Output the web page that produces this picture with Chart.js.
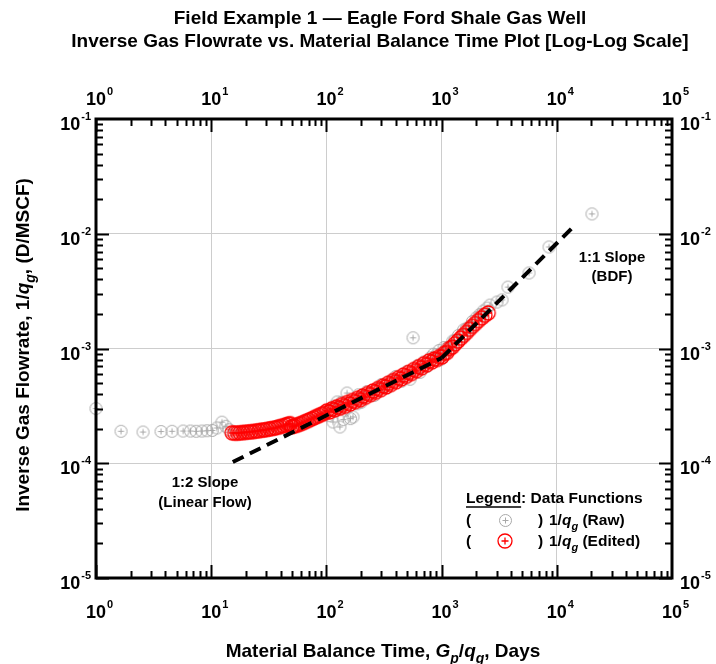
<!DOCTYPE html>
<html>
<head>
<meta charset="utf-8">
<script src="https://cdn.jsdelivr.net/npm/chart.js@4.4.1/dist/chart.umd.min.js"></script>
<style>
  html, body { margin: 0; padding: 0; background: #fff; }
  #wrap { width: 716px; height: 664px; position: relative; }
</style>
</head>
<body>
<div id="wrap"><canvas id="plot"></canvas></div>
<script>
// raw inverse rate vs material balance time (days, D/MSCF)
const rawTime = [
  1.0, 1.65, 2.56, 3.67, 4.57, 5.7, 6.6, 7.4, 8.3, 9.2, 10.2, 11.2, 12.4, 13.4, 14.3,
  16.5, 19.0, 23.0, 27.0, 32.0, 38.0, 45.0, 52.0, 60.0, 70.0, 82.0, 95.0,
  105, 108, 114, 118, 124, 131, 135, 140, 145, 151, 162, 170, 185, 190, 200, 210, 225,
  240, 260, 275, 300, 320, 340, 370, 400, 450, 500, 532, 565, 620, 650, 700, 750,
  800, 850, 900, 950, 980, 1050, 1100, 1150, 1250, 1300, 1400, 1500, 1550, 1650, 1765,
  1850, 2000, 2150, 2200, 2300, 2480, 2630, 3030, 3345, 3770, 5740, 8560, 20200
];
const rawInvRate = [
  3.0e-4, 1.90e-4, 1.87e-4, 1.89e-4, 1.90e-4, 1.91e-4, 1.91e-4, 1.90e-4, 1.91e-4, 1.92e-4, 1.93e-4, 2.03e-4, 2.28e-4, 2.10e-4, 1.96e-4,
  1.86e-4, 1.88e-4, 1.91e-4, 1.97e-4, 2.03e-4, 2.10e-4, 2.20e-4, 2.12e-4, 2.24e-4, 2.40e-4, 2.55e-4, 2.72e-4,
  2.60e-4, 2.95e-4, 2.29e-4, 3.15e-4, 3.42e-4, 2.07e-4, 3.40e-4, 2.40e-4, 2.90e-4, 4.09e-4, 2.45e-4, 2.53e-4, 3.30e-4, 3.95e-4, 3.40e-4, 3.75e-4, 4.20e-4,
  4.05e-4, 3.90e-4, 4.45e-4, 4.85e-4, 4.75e-4, 4.55e-4, 5.30e-4, 5.70e-4, 5.20e-4, 6.30e-4, 5.40e-4, 1.24e-3, 7.10e-4, 6.20e-4, 7.60e-4, 7.00e-4,
  8.30e-4, 8.90e-4, 8.80e-4, 9.60e-4, 8.00e-4, 1.02e-3, 1.00e-3, 9.80e-4, 1.16e-3, 1.18e-3, 1.30e-3, 1.30e-3, 1.45e-3, 1.50e-3, 1.54e-3,
  1.72e-3, 1.85e-3, 1.98e-3, 1.95e-3, 2.12e-3, 2.25e-3, 2.39e-3, 2.54e-3, 2.65e-3, 3.43e-3, 4.55e-3, 7.67e-3, 1.49e-2
];

// edited data set
const editedTime = [
  15.2, 16.0, 16.9, 17.8, 18.8, 19.8, 20.9, 22.1, 23.3, 24.6, 26.0, 27.4, 28.9, 30.5, 32.2, 34.0, 35.9, 37.9,
  40.0, 42.2, 44.5, 46.8, 48.5, 50.2, 52.4, 54.9, 57.6, 60.5, 63.6, 66.9, 70.4, 74.1, 78.0, 82.1, 86.4, 91.0,
  95.8, 100.9, 106.2, 111.8, 117.7, 123.9, 130.4, 137.3, 144.5, 152.1, 160.1, 168.6, 177.5, 186.8, 196.7,
  207, 218, 229, 241, 254, 267, 281, 296, 312, 328, 345, 363, 382, 402, 423, 445, 468, 493, 519, 546, 575,
  605, 637, 670, 705, 742, 781, 822, 865, 910, 958, 1008, 1060, 1115, 1175, 1240, 1310, 1385, 1465, 1550,
  1645, 1745, 1850, 1965, 2090, 2230, 2380, 2540
];
const editedInvRate = [
  1.84e-4, 1.83e-4, 1.83e-4, 1.84e-4, 1.85e-4, 1.86e-4, 1.87e-4, 1.88e-4, 1.89e-4, 1.91e-4, 1.92e-4, 1.94e-4, 1.95e-4, 1.97e-4, 1.99e-4, 2.01e-4, 2.03e-4, 2.06e-4,
  2.09e-4, 2.12e-4, 2.16e-4, 2.19e-4, 2.21e-4, 2.08e-4, 2.11e-4, 2.14e-4, 2.18e-4, 2.22e-4, 2.27e-4, 2.32e-4, 2.37e-4, 2.43e-4, 2.49e-4, 2.55e-4, 2.61e-4, 2.67e-4,
  2.73e-4, 2.86e-4, 2.80e-4, 2.98e-4, 2.92e-4, 3.10e-4, 3.02e-4, 3.24e-4, 3.14e-4, 3.38e-4, 3.28e-4, 3.52e-4, 3.44e-4, 3.68e-4, 3.58e-4,
  3.86e-4, 3.76e-4, 4.05e-4, 3.96e-4, 4.26e-4, 4.16e-4, 4.48e-4, 4.38e-4, 4.72e-4, 4.62e-4, 4.98e-4, 4.86e-4, 5.26e-4, 5.13e-4, 5.56e-4, 5.42e-4, 5.87e-4, 5.72e-4, 6.20e-4, 6.05e-4, 6.56e-4,
  6.40e-4, 6.94e-4, 6.78e-4, 7.36e-4, 7.20e-4, 7.80e-4, 7.62e-4, 8.10e-4, 8.02e-4, 8.50e-4, 8.45e-4, 9.10e-4, 9.25e-4, 1.00e-3, 1.03e-3, 1.10e-3, 1.16e-3, 1.23e-3, 1.30e-3,
  1.38e-3, 1.47e-3, 1.56e-3, 1.65e-3, 1.75e-3, 1.85e-3, 1.95e-3, 2.04e-3
];

// straight-line guides: half slope (linear flow) and unit slope (BDF)
const linearTime = [15.4, 1000];
const linearInvRate = [1.025e-4, 8.26e-4];
const bdfTime = [1000, 13500];
const bdfInvRate = [8.26e-4, 1.115e-2];

const xDecades = [1, 10, 100, 1000, 10000, 100000];
const yDecades = [1e-5, 1e-4, 1e-3, 1e-2, 1e-1];

const FONT = '"Liberation Sans", Arial, sans-serif';

function pairs(xs, ys) {
  return xs.map((x, i) => ({ x, y: ys[i] }));
}

function ringMarker(color, r, lw) {
  const s = Math.ceil(r * 2 + lw + 2);
  const c = document.createElement('canvas');
  c.width = s; c.height = s;
  const g = c.getContext('2d');
  const m = s / 2;
  g.strokeStyle = color;
  g.lineWidth = lw;
  g.beginPath();
  g.arc(m, m, r, 0, Math.PI * 2);
  g.stroke();
  g.beginPath();
  g.moveTo(m - r * 0.5, m); g.lineTo(m + r * 0.5, m);
  g.moveTo(m, m - r * 0.5); g.lineTo(m, m + r * 0.5);
  g.stroke();
  return c;
}

const rawMark = ringMarker('#a8a8a8', 6, 1);
const editMark = ringMarker('#ff0000', 7, 1.3);

// text with italic / subscript runs
function drawRich(g, runs, x, y, size, align) {
  const fontOf = r => `${r.it ? 'italic ' : ''}bold ${r.sub ? Math.round(size * 0.72) : size}px ${FONT}`;
  let w = 0;
  const widths = runs.map(r => { g.font = fontOf(r); const m = g.measureText(r.t).width; w += m; return m; });
  let cx = align === 'center' ? x - w / 2 : x;
  runs.forEach((r, i) => {
    g.font = fontOf(r);
    g.fillText(r.t, cx, y + (r.sub ? size * 0.3 : 0));
    cx += widths[i];
  });
}

function powerLabel(g, v, x, y, align) {
  const exp = String(Math.round(Math.log10(v)));
  g.font = `bold 18px ${FONT}`;
  const wb = g.measureText('10').width;
  g.font = `bold 11px ${FONT}`;
  const we = g.measureText(exp).width;
  let x0 = x - wb / 2;
  if (align === 'right') x0 = x - wb - we - 1;
  if (align === 'left') x0 = x;
  g.font = `bold 18px ${FONT}`;
  g.fillText('10', x0, y);
  g.font = `bold 11px ${FONT}`;
  g.fillText(exp, x0 + wb + 1, y - 10);
}

const frame = {
  id: 'frame',
  afterDraw(chart) {
    const g = chart.ctx, a = chart.chartArea;
    const xs = chart.scales.x, ys = chart.scales.y;
    g.save();
    g.strokeStyle = '#000';
    g.fillStyle = '#000';

    // inward tick marks on all four sides
    g.lineWidth = 2;
    g.beginPath();
    xDecades.slice(0, -1).forEach(d => {
      for (let m = 1; m <= 9; m++) {
        const px = Math.round(xs.getPixelForValue(d * m)) + 0.5;
        const len = m === 1 ? 13 : 7;
        g.moveTo(px, a.bottom); g.lineTo(px, a.bottom - len);
        g.moveTo(px, a.top); g.lineTo(px, a.top + len);
      }
    });
    yDecades.slice(0, -1).forEach(d => {
      for (let m = 1; m <= 9; m++) {
        const py = Math.round(ys.getPixelForValue(d * m)) + 0.5;
        const len = m === 1 ? 13 : 7;
        g.moveTo(a.left, py); g.lineTo(a.left + len, py);
        g.moveTo(a.right, py); g.lineTo(a.right - len, py);
      }
    });
    g.stroke();

    g.lineWidth = 3;
    g.strokeRect(a.left, a.top, a.right - a.left, a.bottom - a.top);

    // decade labels
    g.textBaseline = 'alphabetic';
    g.textAlign = 'left';
    xDecades.forEach(v => {
      const px = xs.getPixelForValue(v);
      powerLabel(g, v, px, a.top - 14, 'center');
      powerLabel(g, v, px, a.bottom + 40, 'center');
    });
    yDecades.forEach(v => {
      const py = ys.getPixelForValue(v);
      powerLabel(g, v, a.left - 5, py + 11, 'right');
      powerLabel(g, v, a.right + 8, py + 11, 'left');
    });

    // title
    g.textAlign = 'center';
    g.font = `bold 19px ${FONT}`;
    g.fillText('Field Example 1 \u2014 Eagle Ford Shale Gas Well', 380, 24);
    g.fillText('Inverse Gas Flowrate vs. Material Balance Time Plot [Log-Log Scale]', 380, 47);
    g.textAlign = 'left';

    // axis titles
    drawRich(g, [
      { t: 'Material Balance Time, ' }, { t: 'G', it: 1 }, { t: 'p', it: 1, sub: 1 },
      { t: '/' }, { t: 'q', it: 1 }, { t: 'g', it: 1, sub: 1 }, { t: ', Days' }
    ], 383, 657, 19, 'center');

    g.save();
    g.translate(29, 345);
    g.rotate(-Math.PI / 2);
    drawRich(g, [
      { t: 'Inverse Gas Flowrate, 1/' }, { t: 'q', it: 1 }, { t: 'g', it: 1, sub: 1 },
      { t: ', (D/MSCF)' }
    ], 0, 0, 19, 'center');
    g.restore();

    // slope notes
    g.textAlign = 'center';
    g.font = `bold 15px ${FONT}`;
    g.fillText('1:1 Slope', 612, 262);
    g.fillText('(BDF)', 612, 281);
    g.fillText('1:2 Slope', 205, 487);
    g.fillText('(Linear Flow)', 205, 507);
    g.textAlign = 'left';

    // legend block
    g.font = `bold 15.5px ${FONT}`;
    const lx = 466;
    g.fillText('Legend', lx, 503);
    const lw = g.measureText('Legend').width;
    g.fillText(': Data Functions', lx + lw, 503);
    g.lineWidth = 1.3;
    g.beginPath(); g.moveTo(lx, 507); g.lineTo(lx + lw, 507); g.stroke();

    [[rawMark, 525, ' (Raw)'], [editMark, 546, ' (Edited)']].forEach(([img, by, tag]) => {
      g.font = `bold 15.5px ${FONT}`;
      g.fillText('(', lx, by);
      g.drawImage(img, Math.round(505 - img.width / 2), Math.round(by - 5 - img.height / 2));
      g.fillText(')', 538, by);
      drawRich(g, [{ t: '1/' }, { t: 'q', it: 1 }, { t: 'g', it: 1, sub: 1 }, { t: tag }], 549, by, 15.5, 'left');
    });

    g.restore();
  }
};

const decadeGrid = ctx => {
  const v = ctx.tick && ctx.tick.value;
  if (!v) return 'rgba(0,0,0,0)';
  const e = Math.log10(v);
  return Math.abs(e - Math.round(e)) < 1e-6 ? '#cdcdcd' : 'rgba(0,0,0,0)';
};

new Chart(document.getElementById('plot'), {
  type: 'scatter',
  data: {
    datasets: [
      {
        label: '1:2 slope',
        data: pairs(linearTime, linearInvRate),
        showLine: true,
        borderColor: '#000',
        borderWidth: 4,
        borderDash: [12, 7],
        pointRadius: 0,
        order: 1,
        clip: false
      },
      {
        label: '1:1 slope',
        data: pairs(bdfTime, bdfInvRate),
        showLine: true,
        borderColor: '#000',
        borderWidth: 4,
        borderDash: [12, 7],
        pointRadius: 0,
        order: 1,
        clip: false
      },
      {
        label: 'Edited',
        data: pairs(editedTime, editedInvRate),
        pointStyle: editMark,
        order: 2,
        clip: false
      },
      {
        label: 'Raw',
        data: pairs(rawTime, rawInvRate),
        pointStyle: rawMark,
        order: 3,
        clip: false
      }
    ]
  },
  options: {
    responsive: true,
    maintainAspectRatio: false,
    animation: false,
    layout: { padding: { left: 96, right: 44, top: 119, bottom: 86 } },
    plugins: { legend: { display: false }, tooltip: { enabled: false } },
    scales: {
      x: {
        type: 'logarithmic',
        min: 1,
        max: 100000,
        ticks: { display: false },
        border: { display: false },
        grid: { color: decadeGrid, drawTicks: false, lineWidth: 1 },
        afterFit: s => { s.height = 0; }
      },
      y: {
        type: 'logarithmic',
        min: 1e-5,
        max: 1e-1,
        ticks: { display: false },
        border: { display: false },
        grid: { color: decadeGrid, drawTicks: false, lineWidth: 1 },
        afterFit: s => { s.width = 0; }
      }
    }
  },
  plugins: [frame]
});
</script>
</body>
</html>
